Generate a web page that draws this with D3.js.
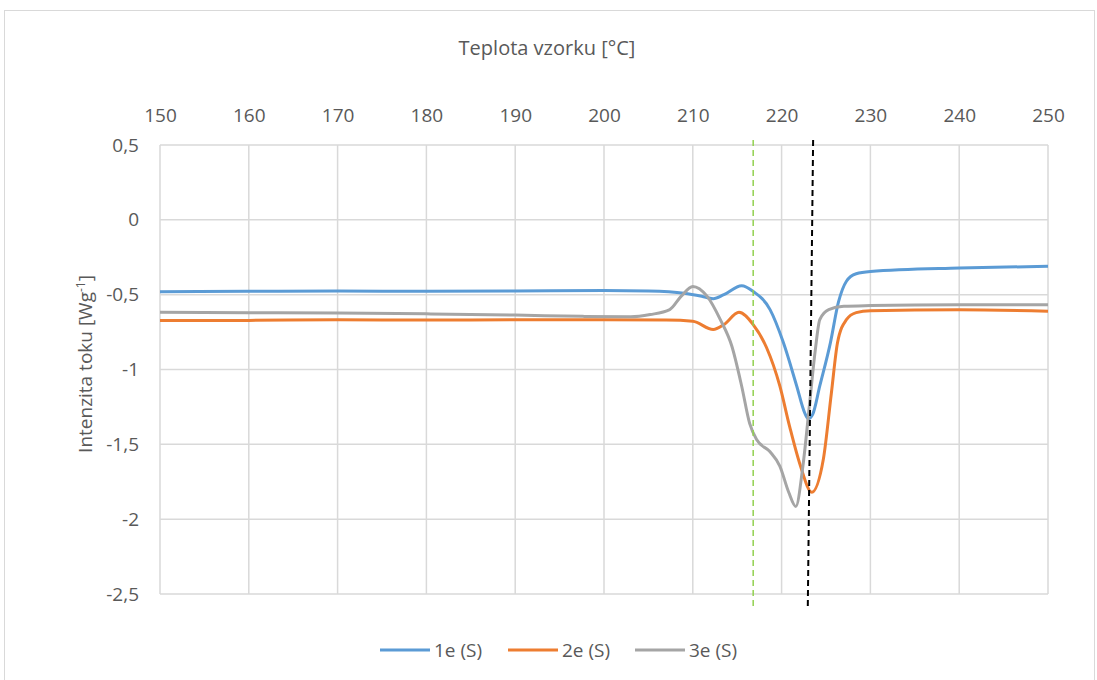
<!DOCTYPE html>
<html>
<head>
<meta charset="utf-8">
<script src="https://cdn.jsdelivr.net/npm/d3@7"></script>
<style>
  body { margin: 0; background: #fff; }
  text { font-family: "Open Sans", sans-serif; fill: #595959; }
</style>
</head>
<body>
<div id="chart"></div>
<script>
var svgWidth = 1097;
var svgHeight = 680;

// temperature [°C] and heat flow [W/g]
var temp1 = [150, 160, 170, 180, 190, 200, 205, 209, 211, 212.3, 213.5, 215.5, 216.8, 218.7, 220.2, 221.7, 222.6, 223.0, 223.5, 224.3, 225.5, 226.4, 227.3, 228.4, 230, 240, 250];
var flow1 = [-0.48, -0.478, -0.476, -0.478, -0.476, -0.472, -0.476, -0.49, -0.51, -0.527, -0.5, -0.44, -0.478, -0.6, -0.82, -1.11, -1.29, -1.33, -1.3, -1.11, -0.82, -0.55, -0.41, -0.36, -0.345, -0.322, -0.31];

var temp2 = [150, 160, 170, 180, 190, 200, 207, 210, 212.3, 213.5, 215.2, 216.8, 218.3, 219.8, 220.9, 222.1, 223.4, 224.7, 225.6, 226.3, 227.3, 228.4, 230, 240, 250];
var flow2 = [-0.673, -0.672, -0.668, -0.67, -0.668, -0.668, -0.67, -0.678, -0.733, -0.7, -0.618, -0.7, -0.853, -1.11, -1.38, -1.64, -1.82, -1.6, -1.16, -0.82, -0.667, -0.62, -0.607, -0.6, -0.61];

var temp3 = [150, 160, 170, 180, 190, 197.6, 203, 205.2, 207.4, 208.7, 210.0, 211.6, 213.1, 214.4, 215.5, 216.4, 217.2, 218.7, 219.8, 220.8, 221.6, 222.4, 223.2, 223.8, 224.3, 225.3, 227, 230, 240, 250];
var flow3 = [-0.618, -0.62, -0.622, -0.628, -0.636, -0.645, -0.648, -0.633, -0.6, -0.51, -0.445, -0.51, -0.667, -0.845, -1.11, -1.36, -1.47, -1.55, -1.645, -1.82, -1.915, -1.645, -1.2, -0.867, -0.667, -0.6, -0.578, -0.573, -0.567, -0.567];

var seriesNames = ["1e (S)", "2e (S)", "3e (S)"];
var seriesColors = ["#5b9bd5", "#ed7d31", "#a5a5a5"];

var xTicks = [150, 160, 170, 180, 190, 200, 210, 220, 230, 240, 250];
var yTicks = [0.5, 0, -0.5, -1, -1.5, -2, -2.5];

// marker lines: [temp at top, temp at bottom]
var greenMark = [216.8, 216.8];
var blackMark = [223.55, 222.95];

var plotLeft = 160;
var plotRight = 1048;
var plotTop = 145;
var plotBottom = 594;

var svg = d3
.select("#chart")
.append("svg")
.attr("width", svgWidth)
.attr("height", svgHeight);

svg.append("rect")
.attr("x", 4.5)
.attr("y", 10.5)
.attr("width", 1090)
.attr("height", 700)
.attr("fill", "#fff")
.attr("stroke", "#d9d9d9")
.attr("stroke-width", 1);

var xScale = d3.scaleLinear().domain([150, 250]).range([plotLeft, plotRight]);
var yScale = d3.scaleLinear().domain([-2.5, 0.5]).range([plotBottom, plotTop]);

// gridlines
svg.append("g")
.selectAll("line")
.data(xTicks)
.enter()
.append("line")
.attr("x1", function(d) { return xScale(d); })
.attr("x2", function(d) { return xScale(d); })
.attr("y1", plotTop)
.attr("y2", plotBottom)
.attr("stroke", "#d9d9d9")
.attr("stroke-width", 1.5);

svg.append("g")
.selectAll("line")
.data(yTicks)
.enter()
.append("line")
.attr("x1", plotLeft)
.attr("x2", plotRight)
.attr("y1", function(d) { return yScale(d); })
.attr("y2", function(d) { return yScale(d); })
.attr("stroke", "#d9d9d9")
.attr("stroke-width", 1.5);

// axes (labels only)
var xAxis = d3.axisTop(xScale).tickValues(xTicks).tickSize(0).tickPadding(0);
var gx = svg.append("g")
.attr("transform", "translate(0," + 122 + ")")
.call(xAxis);
gx.select(".domain").remove();
gx.selectAll("text").style("font-size", "19px").attr("fill", "#595959");

var yFormat = function(d) { return String(d).replace(".", ","); };
var yAxis = d3.axisLeft(yScale).tickValues(yTicks).tickSize(0).tickPadding(0).tickFormat(yFormat);
var gy = svg.append("g")
.attr("transform", "translate(" + 139 + ",0)")
.call(yAxis);
gy.select(".domain").remove();
gy.selectAll("text").style("font-size", "19px").attr("fill", "#595959");

// titles
svg.append("text")
.attr("x", 547)
.attr("y", 55)
.attr("text-anchor", "middle")
.style("font-size", "20px")
.text("Teplota vzorku [°C]");

var yTitle = svg.append("text")
.attr("transform", "translate(92," + 364 + ")rotate(-90)")
.attr("text-anchor", "middle")
.style("font-size", "19px");
yTitle.append("tspan").text("Intenzita toku [Wg");
yTitle.append("tspan").attr("dy", -7).style("font-size", "12px").text("-1");
yTitle.append("tspan").attr("dy", 7).text("]");

// series
var line = d3.line()
.x(function(d) { return xScale(d[0]); })
.y(function(d) { return yScale(d[1]); })
.curve(d3.curveMonotoneX);

var allSeries = [
  d3.zip(temp1, flow1),
  d3.zip(temp2, flow2),
  d3.zip(temp3, flow3)
];

allSeries.forEach(function(s, i) {
  svg.append("path")
  .datum(s)
  .attr("d", line)
  .attr("fill", "none")
  .attr("stroke", seriesColors[i])
  .attr("stroke-width", 3)
  .attr("stroke-linejoin", "round");
});

// dashed marker lines
svg.append("line")
.attr("x1", xScale(greenMark[0]))
.attr("x2", xScale(greenMark[1]))
.attr("y1", 140)
.attr("y2", 610)
.attr("stroke", "#92d050")
.attr("stroke-width", 1.5)
.attr("stroke-dasharray", "6,4");

svg.append("line")
.attr("x1", xScale(blackMark[0]))
.attr("x2", xScale(blackMark[1]))
.attr("y1", 140)
.attr("y2", 607)
.attr("stroke", "#000")
.attr("stroke-width", 2)
.attr("stroke-dasharray", "6,4");

// legend
var legendX = [380, 508, 635];
var legend = svg.append("g");
seriesNames.forEach(function(name, i) {
  legend.append("line")
  .attr("x1", legendX[i])
  .attr("x2", legendX[i] + 50)
  .attr("y1", 650)
  .attr("y2", 650)
  .attr("stroke", seriesColors[i])
  .attr("stroke-width", 3);
  legend.append("text")
  .attr("x", legendX[i] + 54)
  .attr("y", 657)
  .style("font-size", "19px")
  .text(name);
});
</script>
</body>
</html>
